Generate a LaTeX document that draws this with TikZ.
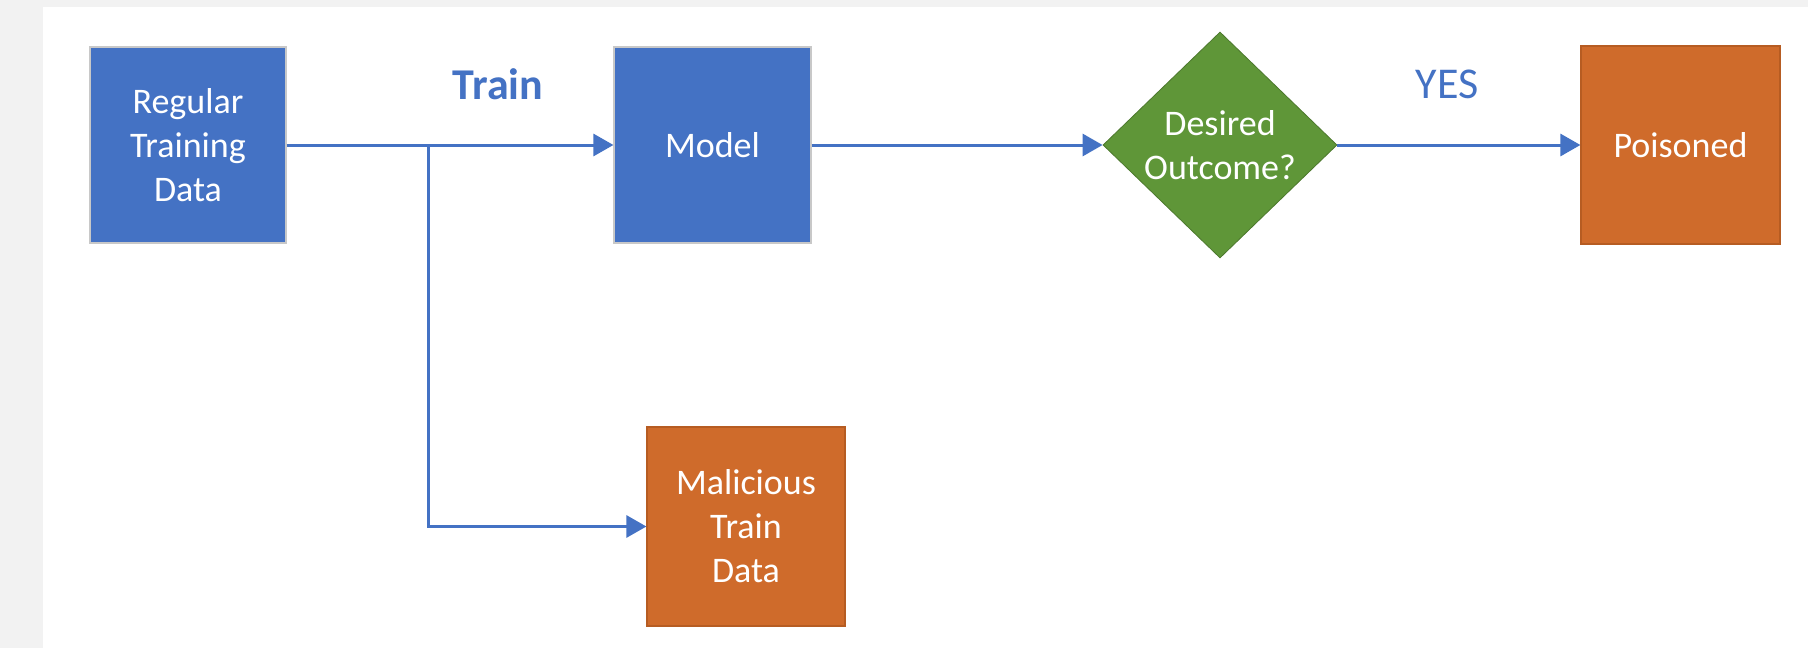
\documentclass[tikz,border=0pt]{standalone}
\usepackage{fontspec}
\setmainfont{Carlito}
\usetikzlibrary{shapes.geometric,arrows.meta}
\definecolor{cblue}{HTML}{4472C4}
\definecolor{corange}{HTML}{CF6B2B}
\definecolor{corangeb}{HTML}{B65C22}
\definecolor{cgreen}{HTML}{5F9638}
\definecolor{cgrayb}{HTML}{C8C8C8}
\definecolor{cbg}{HTML}{F2F2F2}
\begin{document}
\begin{tikzpicture}[x=0.5pt,y=-0.5pt,
  box/.style={rectangle,inner sep=0pt,align=center,text=white,
    font=\fontsize{18}{22}\selectfont},
  bluebox/.style={box,fill=cblue,draw=cgrayb,line width=0.6pt},
  orangebox/.style={box,fill=corange,draw=corangeb,line width=0.6pt},
  decision/.style={diamond,fill=cgreen,draw=cgreen!80!black,line width=0.4pt,inner sep=0pt},
  conn/.style={draw=cblue,line width=1.5pt,-{Triangle[length=10pt,width=11pt]}},
  plain/.style={draw=cblue,line width=1.5pt},
  lbl/.style={text=cblue,font=\fontsize{22}{26}\selectfont}]
\fill[cbg] (0,0) rectangle (1808,648);
\fill[white] (43,7) rectangle (1808,648);
\useasboundingbox (0,0) rectangle (1808,648);

\node[bluebox,minimum width=98pt,minimum height=98pt] (reg) at (188,145) {Regular\\Training\\Data};
\node[bluebox,minimum width=98.5pt,minimum height=98pt] (model) at (712.5,145) {Model};
\node[decision,minimum width=117pt,minimum height=113pt,
  label={[align=center,text=white,font=\fontsize{18}{22}\selectfont]center:Desired\\Outcome?}] (dec) at (1220,145) {};
\node[orangebox,minimum width=99.5pt,minimum height=99pt] (poison) at (1680.5,145) {Poisoned};
\node[orangebox,minimum width=99pt,minimum height=99.5pt] (mal) at (746,526.5) {Malicious\\Train\\Data};

\node[lbl,font=\bfseries\fontsize{22}{26}\selectfont] (train) at (498,84) {Train};
\node[lbl] (yes) at (1447,84) {YES};

\coordinate (j) at (428,145);
\draw[plain] (reg.east) -- (j);
\draw[conn] (j) -- (model.west);
\draw[conn] (j) |- (mal.west);
\draw[conn] (model.east) -- (model.east -| dec.west);
\draw[conn] (dec.east) -- (dec.east -| poison.west);
\end{tikzpicture}
\end{document}
